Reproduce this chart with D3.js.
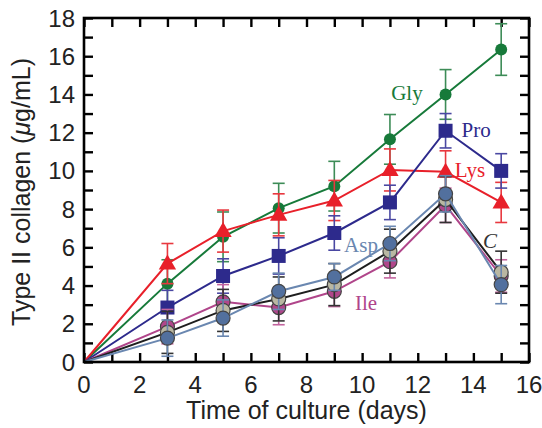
<!DOCTYPE html>
<html>
<head>
<meta charset="utf-8">
<script src="https://cdn.jsdelivr.net/npm/d3@7"></script>
<style>
  body { margin: 0; background: #fff; }
  svg text { font-family: "Liberation Sans", Arial, sans-serif; }
  .lbl { font-family: "Liberation Serif", "Times New Roman", serif; font-size: 21px; }
</style>
</head>
<body>
<svg id="chart" width="542" height="428"></svg>
<script>
// Days of culture
const days = [0, 3, 5, 7, 9, 11, 13, 15];

// Mean collagen values per series (ug/mL)
const gly = [0, 4.1, 6.55, 8.05, 9.2, 11.65, 14.0, 16.35];
const lys = [0, 5.15, 6.85, 7.7, 8.45, 10.05, 9.95, 8.35];
const pro = [0, 2.85, 4.5, 5.55, 6.75, 8.35, 12.1, 10.0];
const asp = [0, 1.25, 2.3, 3.7, 4.45, 6.2, 8.8, 4.05];
const ctl = [0, 1.55, 2.7, 3.3, 4.05, 5.8, 8.5, 4.7];
const ile = [0, 1.85, 3.15, 2.85, 3.7, 5.25, 8.2, 4.5];

// Error bars (+/-)
const glyErr = [0, 1.25, 1.3, 1.3, 1.3, 1.3, 1.3, 1.35];
const lysErr = [0, 1.05, 1.1, 1.1, 1.05, 1.1, 1.1, 1.05];
const proErr = [0, 0.9, 0.9, 0.95, 0.9, 0.9, 0.9, 0.9];
const aspErr = [0, 0.95, 0.95, 0.95, 0.7, 0.9, 0.95, 1.0];
const ctlErr = [0, 1.1, 1.1, 1.15, 1.1, 1.15, 1.2, 1.1];
const ileErr = [0, 0.9, 0.9, 0.9, 0.8, 0.85, 0.9, 0.85];

const seriesNames = ['Gly', 'Lys', 'Pro', 'Ile', 'C', 'Asp'];
const xTicks = [0, 2, 4, 6, 8, 10, 12, 14, 16];
const yTicks = [0, 2, 4, 6, 8, 10, 12, 14, 16, 18];

// Label anchors (text centre x, baseline y) in data coordinates
const labelX = [11.61, 13.88, 14.1, 10.14, 14.6, 9.96];
const labelY = [13.71, 9.68, 11.77, 2.72, 5.97, 5.76];

const series = [
  { name: 'Gly', vals: gly, err: glyErr, line: '#177a3a', fill: '#177a3a', stroke: 'none', bar: '#3d8c57', shape: 'dot', text: '#177a3a' },
  { name: 'Lys', vals: lys, err: lysErr, line: '#e8202a', fill: '#e8202a', stroke: 'none', bar: '#e8383f', shape: 'tri', text: '#e8202a' },
  { name: 'Pro', vals: pro, err: proErr, line: '#2d2a8c', fill: '#2d2a8c', stroke: 'none', bar: '#4a48a2', shape: 'sq', text: '#2d2a8c' },
  { name: 'Ile', vals: ile, err: ileErr, line: '#b0458a', fill: '#b0478b', stroke: '#444', bar: '#c2649e', shape: 'circ', text: '#b0458a' },
  { name: 'C',   vals: ctl, err: ctlErr, line: '#1e1e1e', fill: '#b9b7a2', stroke: '#444', bar: '#333', shape: 'circ', text: '#333', italic: true },
  { name: 'Asp', vals: asp, err: aspErr, line: '#6a87b0', fill: '#52709e', stroke: '#444', bar: '#6a87b0', shape: 'circ', text: '#6a87b0' }
];

const margin = { top: 18, left: 84, right: 13, bottom: 66 };
const width = 542, height = 428;
const svg = d3.select('#chart');

const x = d3.scaleLinear().domain([0, 16]).range([margin.left, width - margin.right]);
const y = d3.scaleLinear().domain([0, 18]).range([height - margin.bottom, margin.top]);

// Ticks on all four sides, pointing inward
const minorX = d3.range(0, 17), minorY = d3.range(0, 19);
svg.append('g').attr('transform', `translate(0,${y(0)})`)
  .call(d3.axisBottom(x).tickValues(minorX).tickSize(-9).tickFormat(''));
svg.append('g').attr('transform', `translate(0,${y(18)})`)
  .call(d3.axisTop(x).tickValues(minorX).tickSize(-9).tickFormat(''));
svg.append('g').attr('transform', `translate(${x(0)},0)`)
  .call(d3.axisLeft(y).tickValues(minorY).tickSize(-9).tickFormat(''));
svg.append('g').attr('transform', `translate(${x(16)},0)`)
  .call(d3.axisRight(y).tickValues(minorY).tickSize(-9).tickFormat(''));
svg.selectAll('.domain').remove();
svg.selectAll('.tick line').attr('stroke', '#000').attr('stroke-width', 2.4);

// Tick labels
svg.append('g').selectAll('text').data(xTicks).join('text')
  .attr('x', d => x(d)).attr('y', y(0) + 31)
  .attr('text-anchor', 'middle').attr('font-size', 24).attr('fill', '#222')
  .text(d => d);
svg.append('g').selectAll('text').data(yTicks).join('text')
  .attr('x', x(0) - 9).attr('y', d => y(d) + 8.5)
  .attr('text-anchor', 'end').attr('font-size', 24).attr('fill', '#222')
  .text(d => d);

// Axis titles
svg.append('text').attr('x', (x(0) + x(16)) / 2).attr('y', 419)
  .attr('text-anchor', 'middle').attr('font-size', 25).attr('fill', '#222')
  .text('Time of culture (days)');
const yt = svg.append('text')
  .attr('transform', `translate(30,${(y(0) + y(18)) / 2 + 2}) rotate(-90)`)
  .attr('text-anchor', 'middle').attr('font-size', 25).attr('fill', '#222');
yt.append('tspan').text('Type II collagen (');
yt.append('tspan').attr('font-style', 'italic').text('\u03bc');
yt.append('tspan').text('g/mL)');

const line = d3.line().x((d, i) => x(days[i])).y(d => y(d));
const plot = svg.append('g');

series.forEach(s => {
  const g = plot.append('g');
  // lines
  g.append('path').attr('d', line(s.vals)).attr('fill', 'none')
    .attr('stroke', s.line).attr('stroke-width', 2);
  // error bars (skip the origin)
  const pts = s.vals.map((v, i) => ({ x: days[i], v, e: s.err[i] })).filter(p => p.x > 0);
  const eb = g.append('g').attr('stroke', s.bar).attr('stroke-width', 1.6);
  pts.forEach(p => {
    eb.append('line').attr('x1', x(p.x)).attr('x2', x(p.x)).attr('y1', y(p.v - p.e)).attr('y2', y(p.v + p.e));
    [p.v - p.e, p.v + p.e].forEach(t => {
      eb.append('line').attr('x1', x(p.x) - 6).attr('x2', x(p.x) + 6).attr('y1', y(t)).attr('y2', y(t));
    });
  });
  // markers
  const m = g.append('g');
  pts.forEach(p => {
    const cx = x(p.x), cy = y(p.v);
    if (s.shape === 'dot') {
      m.append('circle').attr('cx', cx).attr('cy', cy).attr('r', 6).attr('fill', s.fill);
    } else if (s.shape === 'circ') {
      m.append('circle').attr('cx', cx).attr('cy', cy).attr('r', 7)
        .attr('fill', s.fill).attr('stroke', s.stroke).attr('stroke-width', 1.2);
    } else if (s.shape === 'sq') {
      m.append('rect').attr('x', cx - 7).attr('y', cy - 7).attr('width', 14).attr('height', 14).attr('fill', s.fill);
    } else if (s.shape === 'tri') {
      m.append('path').attr('d', d3.symbol(d3.symbolTriangle, 130)()).attr('transform', `translate(${cx},${cy + 1})`).attr('fill', s.fill);
    }
  });
});

// Series labels
svg.append('g').selectAll('text').data(seriesNames).join('text')
  .attr('class', 'lbl')
  .attr('x', (d, i) => x(labelX[i])).attr('y', (d, i) => y(labelY[i]))
  .attr('text-anchor', 'middle')
  .attr('fill', (d, i) => series[i].text)
  .attr('font-style', (d, i) => series[i].italic ? 'italic' : 'normal')
  .text(d => d);

// Frame
svg.append('rect').attr('x', x(0)).attr('y', y(18)).attr('width', x(16) - x(0)).attr('height', y(0) - y(18))
  .attr('fill', 'none').attr('stroke', '#000').attr('stroke-width', 2.6);
</script>
</body>
</html>
